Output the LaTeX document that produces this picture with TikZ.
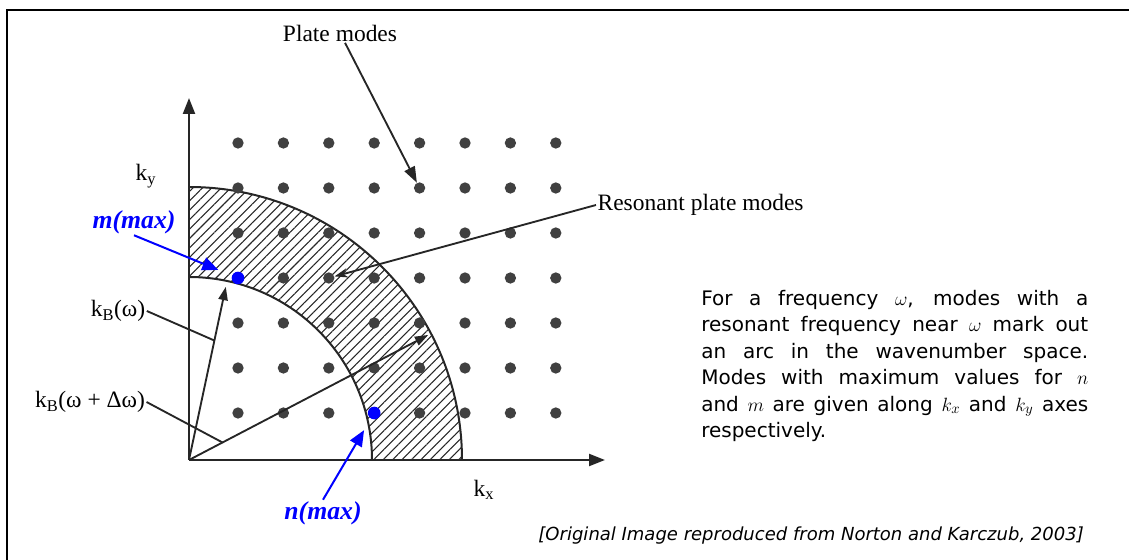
\documentclass[tikz,border=0pt]{standalone}
\usepackage{fontspec}
\setmainfont{DejaVu Sans}
\newfontfamily\figserif{Liberation Serif}
\usetikzlibrary{arrows.meta,patterns.meta}
\definecolor{dotgray}{gray}{0.25}
\definecolor{inkgray}{gray}{0.15}
\tikzset{
	axisline/.style={inkgray, line width=1.6pt, -{Triangle[length=12pt,width=9pt]}},
	arcline/.style={inkgray, line width=1.5pt},
	hatched/.style={pattern={Lines[angle=45,distance=5pt,line width=0.8pt]}, pattern color=inkgray},
	modedot/.style={circle, fill=dotgray, minimum size=8.5pt, inner sep=0pt},
	maxdot/.style={circle, fill=blue, minimum size=9.5pt, inner sep=0pt},
	wavevec/.style={inkgray, line width=1.4pt, -{Triangle[length=10pt,width=7pt]}},
	pointer/.style={inkgray, line width=1.4pt, -{Triangle[length=12pt,width=8.5pt]}},
	leader/.style={inkgray, line width=1.4pt},
	serlabel/.style={font=\figserif\fontsize{17.6}{20}\selectfont, inner sep=1pt},
	maxlabel/.style={font=\figserif\bfseries\itshape\fontsize{19.3}{22}\selectfont, text=blue, inner sep=1pt},
	maxarrow/.style={blue, line width=1.5pt, -{Triangle[length=12pt,width=10pt]}}
}

\begin{document}
\begin{tikzpicture}[x=0.75pt,y=0.75pt]
	\useasboundingbox (-189,-100) rectangle (940,460);
	\draw[line width=1.5pt] (-182,-100) -- (-182,450) -- (940,450);

	% band of resonant modes
	\coordinate (O) at (0,0);
	\path[hatched] (183,0) -- (273,0) arc[start angle=0,end angle=90,radius=273]
		-- (0,183) arc[start angle=90,end angle=0,radius=183] -- cycle;
	\draw[arcline] (273,0) arc[start angle=0,end angle=90,radius=273];
	\draw[arcline] (183,0) arc[start angle=0,end angle=90,radius=183];

	% mode grid
	\foreach \i in {1,...,8}
		\foreach \j in {1,...,7}
			\node[modedot] (d-\i-\j) at ({49+45.4*(\i-1)},{317-45*(\j-1)}) {};
	\node[maxdot] (mmax) at (d-1-4) {};
	\node[maxdot] (nmax) at (d-4-7) {};

	% axes
	\coordinate (xend) at (416,0);
	\coordinate (yend) at (0,362);
	\draw[axisline] (O) -- (yend);
	\draw[axisline] (O) -- (xend);
	\node[serlabel] (kylab) at (-43,284) {k\textsubscript{y}};
	\node[serlabel] (kxlab) at (295,-30) {k\textsubscript{x}};

	% wavenumber vectors
	\coordinate (kbwend) at (78:177);
	\coordinate (kbdwend) at (27.6:270);
	\draw[wavevec] (O) -- (kbwend);
	\draw[wavevec] (O) -- (kbdwend);
	\path (O) -- (kbwend) coordinate[pos=0.69] (kbwfoot);
	\path (O) -- (kbdwend) coordinate[pos=0.14] (kbdwfoot);
	\node[serlabel] (kbw) at (-71,149) {k\textsubscript{B}(ω)};
	\node[serlabel] (kbdw) at (-99,58) {k\textsubscript{B}(ω + Δω)};
	\draw[leader] (kbw.east) -- (kbwfoot);
	\draw[leader] (kbdw.east) -- (kbdwfoot);

	% callouts
	\node[serlabel] (platelab) at (151,427) {Plate modes};
	\node[serlabel, anchor=west] (reslab) at (407,255) {Resonant plate modes};
	\draw[pointer] (platelab) -- (d-5-2);
	\draw[leader, -{Stealth[length=10pt,width=7pt]}] (reslab.west) -- (d-3-4);

	\node[maxlabel] (mlab) at (-55,238) {m(max)};
	\node[maxlabel] (nlab) at (134,-53) {n(max)};
	\draw[maxarrow, shorten >=11pt] (mlab.south) -- (mmax);
	\draw[maxarrow, shorten >=10pt] (nlab.north) -- (nmax);

	% explanation
	\node[anchor=north west, text width=290.25pt, align=justify, inner sep=0pt,
		font=\fontsize{15}{19.8}\selectfont] (about) at (512,170)
		{For a frequency $\omega$, modes with a\linebreak
		resonant frequency near $\omega$ mark out\linebreak
		an arc in the wavenumber space.\linebreak
		Modes with maximum values for $n$\linebreak
		and $m$ are given along $k_x$ and $k_y$ axes\linebreak
		respectively.};
	\node[anchor=east, inner sep=0pt, font=\itshape\fontsize{13.5}{16}\selectfont] (source) at (895,-76)
		{[Original Image reproduced from Norton and Karczub, 2003]};
\end{tikzpicture}
\end{document}
